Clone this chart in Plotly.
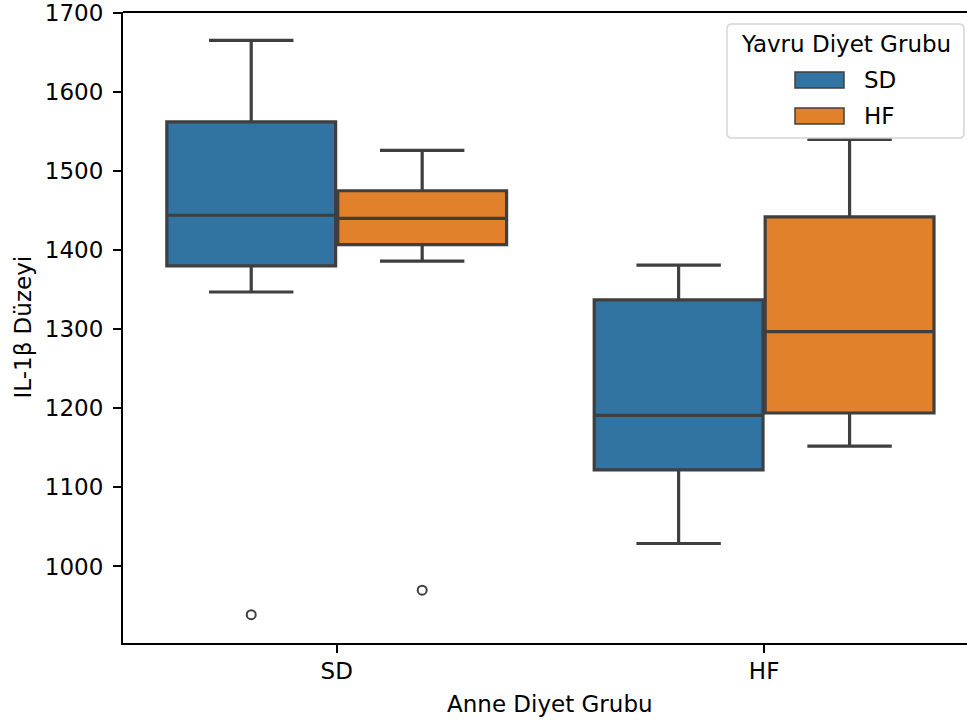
import plotly.graph_objects as go

# ---- data ----
mother_groups = ["SD", "HF"]          # x categories (Anne Diyet Grubu)
pup_groups = ["SD", "HF"]             # hue (Yavru Diyet Grubu)

sd_lower = [1347, 1029]
sd_q1 = [1380, 1122]
sd_median = [1444, 1191]
sd_q3 = [1562, 1337]
sd_upper = [1665, 1381]
sd_outliers_x = ["SD"]
sd_outliers_y = [939]

hf_lower = [1386, 1152]
hf_q1 = [1407, 1194]
hf_median = [1440, 1297]
hf_q3 = [1475, 1442]
hf_upper = [1526, 1540]
hf_outliers_x = ["SD"]
hf_outliers_y = [970]

y_ticks = [1000, 1100, 1200, 1300, 1400, 1500, 1600, 1700]

# ---- style ----
colors = {"SD": "#3274a1", "HF": "#e1812c"}
edge = "#3f3f3f"
hue_offset = {"SD": -0.2, "HF": 0.2}
box_w = 0.395
font = "DejaVu Sans"
fs = 23

series = {
    "SD": (sd_lower, sd_q1, sd_median, sd_q3, sd_upper, sd_outliers_x, sd_outliers_y),
    "HF": (hf_lower, hf_q1, hf_median, hf_q3, hf_upper, hf_outliers_x, hf_outliers_y),
}

cat_index = {c: i for i, c in enumerate(mother_groups)}

fig = go.Figure()
for hue in pup_groups:
    lo, q1, med, q3, up, ox, oy = series[hue]
    xs = [cat_index[c] + hue_offset[hue] for c in mother_groups]
    fig.add_trace(go.Box(
        x=xs, q1=q1, median=med, q3=q3, lowerfence=lo, upperfence=up,
        width=box_w, whiskerwidth=0.5,
        fillcolor=colors[hue], line=dict(color=edge, width=3.2),
        name=hue, boxpoints=False, showlegend=False, hoverinfo="skip",
    ))
    fig.add_trace(go.Scatter(
        x=[cat_index[c] + hue_offset[hue] for c in ox], y=oy, mode="markers",
        marker=dict(symbol="circle-open", size=9, color=edge, line=dict(width=2, color=edge)),
        showlegend=False, hoverinfo="skip",
    ))

W, H = 967, 725
L, R, T, B = 123, 0, 12, 82
pw, ph = W - L - R, H - T - B


def px(x):
    return (x - L) / pw


def py(y):
    return (H - B - y) / ph


# ---- legend drawn as shapes + text (matplotlib-style, centered) ----
lx0, lx1, ly0, ly1, rad = 727, 964, 24, 138, 5
legend_path = (
    f"M {px(lx0 + rad)} {py(ly0)} L {px(lx1 - rad)} {py(ly0)} "
    f"Q {px(lx1)} {py(ly0)} {px(lx1)} {py(ly0 + rad)} "
    f"L {px(lx1)} {py(ly1 - rad)} Q {px(lx1)} {py(ly1)} {px(lx1 - rad)} {py(ly1)} "
    f"L {px(lx0 + rad)} {py(ly1)} Q {px(lx0)} {py(ly1)} {px(lx0)} {py(ly1 - rad)} "
    f"L {px(lx0)} {py(ly0 + rad)} Q {px(lx0)} {py(ly0)} {px(lx0 + rad)} {py(ly0)} Z"
)
shapes = [
    dict(type="line", xref="paper", yref="paper", x0=0, x1=1, y0=1, y1=1,
         line=dict(color="black", width=2)),
    dict(type="path", xref="paper", yref="paper", path=legend_path,
         fillcolor="rgba(255,255,255,0.85)", line=dict(color="#d5d5d5", width=1.5), layer="above"),
]
annotations = [
    dict(text="Anne Diyet Grubu", xref="x", x=0.5, yref="paper",
         y=py(704), xanchor="center", yanchor="middle",
         showarrow=False, font=dict(family=font, size=fs, color="black")),
    dict(text="IL-1β Düzeyi", xref="paper", x=px(22), yref="paper", y=0.5,
         xanchor="center", yanchor="middle", textangle=-90,
         showarrow=False, font=dict(family=font, size=fs, color="black")),
    dict(text="Yavru Diyet Grubu", xref="paper", x=px(845.5), yref="paper", y=py(44),
         xanchor="center", yanchor="middle", showarrow=False,
         font=dict(family=font, size=fs, color="black")),
]
patch_rows = [(72, 88, 80), (108, 124, 116)]
for hue, (y0, y1, yc) in zip(pup_groups, patch_rows):
    shapes.append(dict(type="rect", xref="paper", yref="paper",
                       x0=px(795), x1=px(844), y0=py(y1), y1=py(y0),
                       fillcolor=colors[hue], line=dict(color=edge, width=1.5), layer="above"))
    annotations.append(dict(text=hue, xref="paper", x=px(862), yref="paper", y=py(yc),
                            xanchor="left", yanchor="middle", showarrow=False,
                            font=dict(family=font, size=fs, color="black")))

fig.update_layout(
    width=W, height=H,
    margin=dict(l=L, r=R, t=T, b=B),
    plot_bgcolor="white", paper_bgcolor="white",
    font=dict(family=font, size=fs, color="black"),
    boxmode="overlay",
    showlegend=False,
    xaxis=dict(
        range=[-0.5, -0.5 + pw / 427.4],
        tickmode="array", tickvals=list(range(len(mother_groups))), ticktext=mother_groups,
        showgrid=False, zeroline=False,
        showline=True, linecolor="black", linewidth=2,
        ticks="outside", ticklen=8, tickwidth=2, tickcolor="black",
        ticklabelstandoff=-2,
        tickfont=dict(family=font, size=fs, color="black"),
    ),
    yaxis=dict(
        range=[903.2, 1701],
        tickmode="array", tickvals=y_ticks,
        showgrid=False, zeroline=False,
        showline=True, linecolor="black", linewidth=2,
        ticks="outside", ticklen=8, tickwidth=2, tickcolor="black",
        ticklabelstandoff=5,
        ticklabeloverflow="allow",
        tickfont=dict(family=font, size=fs, color="black"),
    ),
    shapes=shapes,
    annotations=annotations,
)

fig.write_html("out.html")
